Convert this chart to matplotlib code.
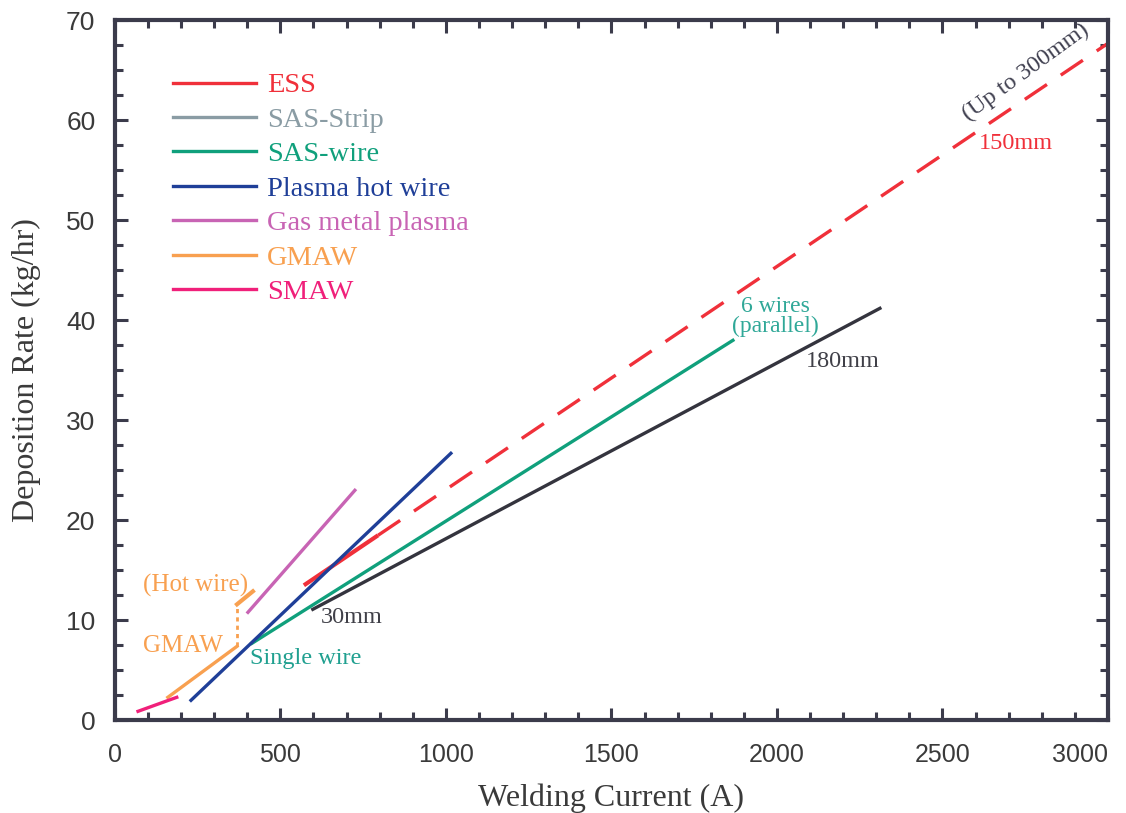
import matplotlib
matplotlib.use("Agg")
import matplotlib.pyplot as plt
from matplotlib.lines import Line2D
from matplotlib.ticker import MultipleLocator

# data: welding current (A) vs deposition rate (kg/hr)
ess_solid_x = [571, 795]
ess_solid_y = [13.5, 18.5]
ess_dash_x = [795, 3000]
ess_dash_y = [18.5, 67.7]
sas_wire_x = [414, 1867]
sas_wire_y = [7.7, 38.0]
sas_strip_x = [598, 2311]
sas_strip_y = [11.1, 41.2]
plasma_hw_x = [230, 1015]
plasma_hw_y = [2.0, 26.7]
gmp_x = [402, 725]
gmp_y = [10.8, 23.0]
gmaw_x = [160, 369]
gmaw_y = [2.3, 7.4]
gmaw_jump_x = [369, 369]
gmaw_jump_y = [7.4, 11.6]
gmaw_hot_x = [369, 417]
gmaw_hot_y = [11.6, 12.9]
smaw_x = [70, 187]
smaw_y = [0.9, 2.3]

x_ticks = [0, 500, 1000, 1500, 2000, 2500, 3000]

legend_names = ["ESS", "SAS-Strip", "SAS-wire", "Plasma hot wire",
                "Gas metal plasma", "GMAW", "SMAW"]
legend_colors = ["#f0303a", "#8a9ca4", "#10a07c", "#1f3f98",
                 "#c864b4", "#f8a050", "#f0207a"]

c_ess, c_strip_leg, c_wire, c_plasma, c_gmp, c_gmaw, c_smaw = legend_colors
c_strip = "#34343e"
c_axis = "#3b3b4b"

fig = plt.figure(figsize=(11.26, 8.13), dpi=100)
ax = fig.add_axes([0.102, 0.114, 0.882, 0.861])

lw = 2.4
ax.plot(ess_solid_x, ess_solid_y, color=c_ess, lw=lw + 0.6, solid_capstyle="butt")
ax.plot(ess_dash_x, ess_dash_y, color=c_ess, lw=lw, dashes=(8, 5))
ax.plot(sas_wire_x, sas_wire_y, color=c_wire, lw=lw)
ax.plot(sas_strip_x, sas_strip_y, color=c_strip, lw=lw)
ax.plot(plasma_hw_x, plasma_hw_y, color=c_plasma, lw=lw)
ax.plot(gmp_x, gmp_y, color=c_gmp, lw=lw)
ax.plot(gmaw_x, gmaw_y, color=c_gmaw, lw=lw)
ax.plot(gmaw_jump_x, gmaw_jump_y, color=c_gmaw, lw=2, dashes=(1.5, 1.5))
ax.plot(gmaw_hot_x, gmaw_hot_y, color=c_gmaw, lw=lw + 0.6)
ax.plot(smaw_x, smaw_y, color=c_smaw, lw=lw)

serif = ["Liberation Serif", "DejaVu Serif"]
sans = ["Liberation Sans", "DejaVu Sans"]

# annotations
ax.text(245, 13.5, "(Hot wire)", color=c_gmaw, fontsize=18, family=serif,
        ha="center", va="center")
ax.text(205, 7.4, "GMAW", color=c_gmaw, fontsize=18, family=serif,
        ha="center", va="center")
ax.text(408, 6.2, "Single wire", color="#20a090", fontsize=17.5, family=serif,
        ha="left", va="center")
ax.text(622, 10.3, "30mm", color="#404048", fontsize=17.5, family=serif,
        ha="left", va="center")
ax.text(1994, 40.4, "6 wires\n(parallel)", color="#30a898", fontsize=17,
        family=serif, ha="center", va="center", linespacing=0.9)
ax.text(2088, 35.9, "180mm", color="#404048", fontsize=17.5, family=serif,
        ha="left", va="center")
ax.text(2722, 57.7, "150mm", color=c_ess, fontsize=17.5, family=serif,
        ha="center", va="center")
ax.text(2752, 64.8, "(Up to 300mm)", color="#404050", fontsize=17.5,
        family=serif, ha="center", va="center", rotation=36)

handles = [Line2D([0], [0], color=c, lw=lw) for c in legend_colors]
leg = ax.legend(handles, legend_names, loc="upper left",
                bbox_to_anchor=(0.033, 0.962), frameon=False,
                handlelength=2.9, handletextpad=0.4, labelspacing=0.3,
                prop={"family": serif, "size": 20.5},
                labelcolor=legend_colors)

ax.set_xlim(0, 3000)
ax.set_ylim(0, 70)
ax.set_xticks(x_ticks)
ax.xaxis.set_minor_locator(MultipleLocator(100))
ax.yaxis.set_major_locator(MultipleLocator(10))
ax.yaxis.set_minor_locator(MultipleLocator(2.5))
ax.tick_params(which="both", direction="in", top=True, right=True,
               color=c_axis, width=2.2)
ax.tick_params(which="major", length=9)
ax.tick_params(which="minor", length=5.5)
ax.tick_params(axis="x", which="major", pad=16, labelsize=18,
               labelcolor="#3a3a3a", labelfontfamily=sans)
ax.tick_params(axis="y", which="major", pad=14, labelsize=19,
               labelcolor="#3a3a3a", labelfontfamily=sans)
# keep the last label inside the figure
ax.xaxis.get_major_ticks()[-1].label1.set_horizontalalignment("right")

for sp in ax.spines.values():
    sp.set_color(c_axis)
    sp.set_linewidth(3)

ax.set_xlabel("Welding Current (A)", fontsize=23, family=serif,
              color="#3a3a3a", labelpad=12)
ax.set_ylabel("Deposition Rate (kg/hr)", fontsize=23, family=serif,
              color="#3a3a3a", labelpad=18)

fig.savefig("out.png", dpi=100)
